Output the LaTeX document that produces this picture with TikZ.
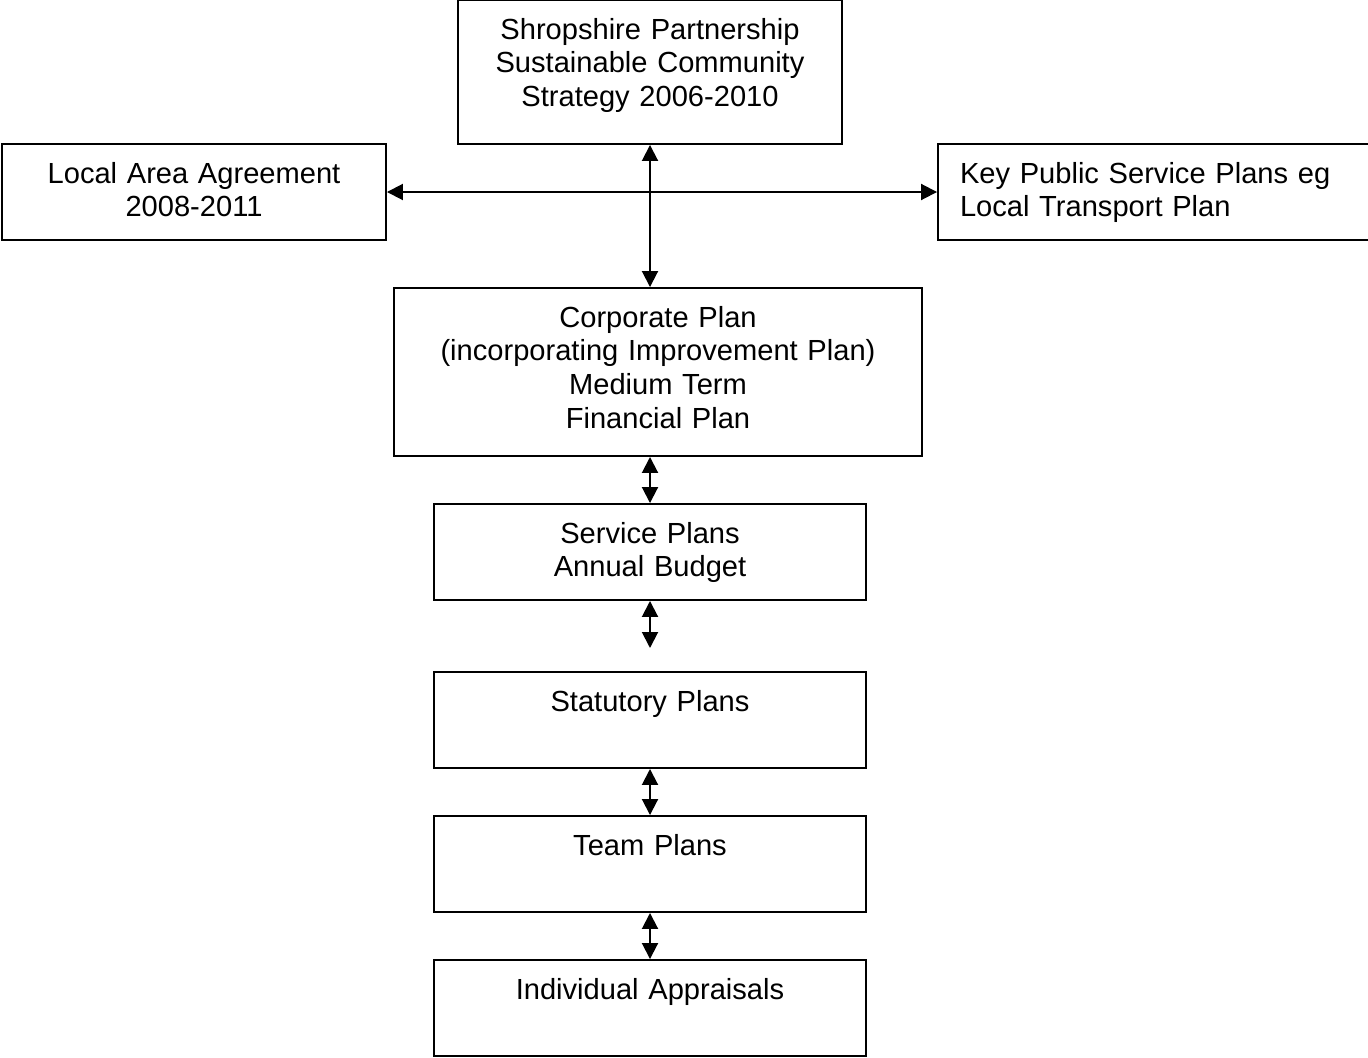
\documentclass[tikz,border=0pt]{standalone}
\usepackage{fontspec}
\setmainfont{Liberation Sans}
\usetikzlibrary{arrows.meta,positioning}
\newcommand{\pxlen}{0.4125pt}
\tikzset{
  planbox/.style={draw,line width=0.8pt,inner xsep=0pt,inner ysep=0pt,align=center,
    font=\fontsize{12pt}{14pt}\selectfont,text height=39*\pxlen},
  linkarrow/.style={{Triangle[length=6.6pt,width=6.6pt]}-{Triangle[length=6.6pt,width=6.6pt]},
    line width=0.8pt}
}
\begin{document}
\begin{tikzpicture}[x=0.4125pt,y=-0.4125pt]
  \useasboundingbox (0,0) rectangle (1368,1057);

  % boxes
  \node[planbox,text width=384*\pxlen,text depth=105*\pxlen] (spc) at (650,72)
    {Shropshire Partnership\\Sustainable Community\\Strategy 2006-2010};
  \node[planbox,text width=384*\pxlen,text depth=57*\pxlen] (laa) at (194,192)
    {Local Area Agreement\\2008-2011};
  \node[planbox,align=left,inner xsep=22*\pxlen,text width=396*\pxlen,text depth=57*\pxlen] (kpsp) at (1158,192)
    {Key Public Service Plans eg\\Local Transport Plan};
  \node[planbox,text width=528*\pxlen,text depth=129*\pxlen] (corp) at (658,372)
    {Corporate Plan\\(incorporating Improvement Plan)\\Medium Term\\Financial Plan};
  \node[planbox,text width=432*\pxlen,text depth=57*\pxlen] (serv) at (650,552)
    {Service Plans\\Annual Budget};
  \node[planbox,text width=432*\pxlen,text depth=57*\pxlen] (stat) at (650,720) {Statutory Plans};
  \node[planbox,text width=432*\pxlen,text depth=57*\pxlen] (team) at (650,864) {Team Plans};
  \node[planbox,text width=432*\pxlen,text depth=57*\pxlen] (indiv) at (650,1008) {Individual Appraisals};

  \coordinate (gap) at (650,648);

  % links
  \draw[linkarrow] (laa) -- (kpsp);
  \draw[linkarrow] (spc.south) -- (spc.south |- corp.north);
  \draw[linkarrow] (serv.north |- corp.south) -- (serv.north);
  \draw[linkarrow] (serv.south) -- (gap);
  \draw[linkarrow] (stat.south) -- (team.north);
  \draw[linkarrow] (team.south) -- (indiv.north);
\end{tikzpicture}
\end{document}
